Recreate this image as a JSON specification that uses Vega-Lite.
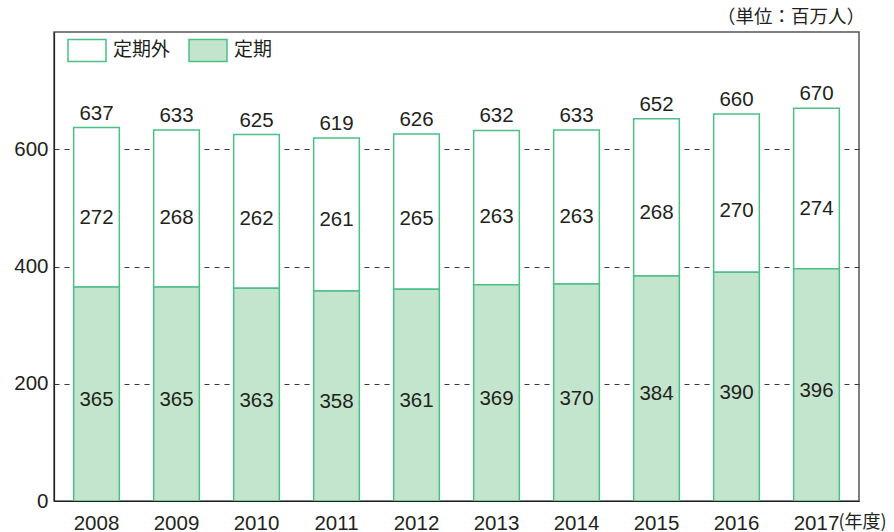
{
  "$schema": "https://vega.github.io/schema/vega-lite/v6.json",
  "width": 805,
  "height": 469,
  "autosize": {"type": "none"},
  "padding": {"left": 54, "top": 32, "right": 35, "bottom": 31},
  "background": "white",
  "title": {"text": "（単位：百万人）", "anchor": "end", "frame": "group", "dx": 6, "font": "Noto Sans CJK JP", "fontSize": 18.5, "fontWeight": "normal", "color": "#231f20", "offset": 4},
  "data": {"values": [
    {"year": "2008", "定期": 365, "定期外": 272, "合計": 637},
    {"year": "2009", "定期": 365, "定期外": 268, "合計": 633},
    {"year": "2010", "定期": 363, "定期外": 262, "合計": 625},
    {"year": "2011", "定期": 358, "定期外": 261, "合計": 619},
    {"year": "2012", "定期": 361, "定期外": 265, "合計": 626},
    {"year": "2013", "定期": 369, "定期外": 263, "合計": 632},
    {"year": "2014", "定期": 370, "定期外": 263, "合計": 633},
    {"year": "2015", "定期": 384, "定期外": 268, "合計": 652},
    {"year": "2016", "定期": 390, "定期外": 270, "合計": 660},
    {"year": "2017", "定期": 396, "定期外": 274, "合計": 670}
  ]},
  "encoding": {
    "x": {"field": "year", "type": "nominal", "sort": null,
      "scale": {"paddingInner": 0.429, "paddingOuter": 0.2456},
      "axis": {"title": null, "labelAngle": 0, "ticks": false, "domain": true, "domainColor": "#231f20", "domainWidth": 1.2, "labelFont": "Liberation Sans", "labelFontSize": 20.5, "labelColor": "#231f20", "labelPadding": 12, "zindex": 1}}
  },
  "layer": [
    {
      "transform": [{"fold": ["定期外", "定期"], "as": ["type", "value"]}],
      "mark": {"type": "bar", "stroke": "#4dbf86", "strokeWidth": 1.5},
      "encoding": {
        "y": {"field": "value", "type": "quantitative", "stack": "zero",
          "scale": {"domain": [0, 800], "nice": false},
          "axis": {"title": null, "values": [0, 200, 400, 600], "grid": true, "gridDash": [5, 5], "gridColor": "#3a3a3a", "gridWidth": 1, "ticks": false, "domain": true, "domainColor": "#231f20", "domainWidth": 1.2, "labelFont": "Liberation Sans", "labelFontSize": 20.5, "labelColor": "#231f20", "labelPadding": 6}},
        "color": {"field": "type", "type": "nominal",
          "scale": {"domain": ["定期外", "定期"], "range": ["#ffffff", "#c4e5cd"]},
          "legend": {"title": null, "orient": "none", "legendX": 13, "legendY": -2, "direction": "horizontal", "padding": 0,
            "symbolType": "M-1,-0.58H1V0.58H-1Z", "symbolSize": 1444, "symbolStrokeColor": "#4dbf86", "symbolStrokeWidth": 1.5,
            "labelFont": "Noto Sans CJK JP", "labelFontSize": 19, "labelColor": "#231f20", "labelOffset": 6, "columnPadding": 15,
            "encode": {"symbols": {"update": {"stroke": {"value": "#4dbf86"}, "strokeWidth": {"value": 1.5}}}}}},
        "order": {"field": "type", "sort": "ascending"}
      }
    },
    {
      "mark": {"type": "text", "baseline": "alphabetic", "dy": -8, "font": "Liberation Sans", "fontSize": 20.5, "color": "#231f20"},
      "encoding": {
        "y": {"field": "合計", "type": "quantitative"},
        "text": {"field": "合計", "type": "quantitative"}
      }
    },
    {
      "transform": [{"calculate": "datum['定期'] / 2", "as": "p1"}],
      "mark": {"type": "text", "baseline": "middle", "dy": 6, "font": "Liberation Sans", "fontSize": 20.5, "color": "#231f20"},
      "encoding": {
        "y": {"field": "p1", "type": "quantitative"},
        "text": {"field": "定期", "type": "quantitative"}
      }
    },
    {
      "transform": [{"calculate": "(datum['定期'] + 600) / 2", "as": "p2"}],
      "mark": {"type": "text", "baseline": "middle", "dy": 0, "font": "Liberation Sans", "fontSize": 20.5, "color": "#231f20"},
      "encoding": {
        "y": {"field": "p2", "type": "quantitative"},
        "text": {"field": "定期外", "type": "quantitative"}
      }
    },
    {
      "data": {"values": [{"label": "(年度)"}]},
      "mark": {"type": "text", "align": "left", "baseline": "middle", "dx": 22, "dy": 22, "font": "Noto Sans CJK JP", "fontSize": 18, "color": "#231f20"},
      "encoding": {
        "x": {"datum": "2017"},
        "y": {"datum": 0},
        "text": {"field": "label"}
      }
    }
  ],
  "config": {
    "view": {"stroke": "#555555", "strokeWidth": 1.5},
    "font": "Liberation Sans"
  }
}
